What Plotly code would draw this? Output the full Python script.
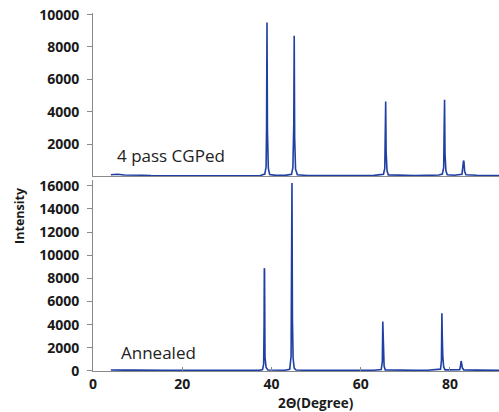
import plotly.graph_objects as go

# 4 pass CGPed pattern (upper panel)
cgp_two_theta = [4.0, 5.5, 7.0, 9.0, 11.0, 13.0, 16.0, 20.0, 24.0, 28.0, 32.0, 35.0, 37.5,
                 38.5, 38.8, 38.9, 39.0, 39.1, 39.3, 39.6, 41.0, 43.0,
                 44.5, 44.8, 45.0, 45.1, 45.2, 45.4, 45.8, 48.0, 52.0, 56.0, 60.0, 63.0,
                 65.1, 65.4, 65.5, 65.6, 65.7, 65.9, 66.2, 69.0, 72.0, 75.0, 77.5,
                 78.3, 78.6, 78.7, 78.8, 78.9, 79.1, 79.4, 81.0,
                 82.7, 82.95, 83.05, 83.1, 83.15, 83.3, 83.6, 86.0, 88.0, 91.0]
cgp_intensity = [110, 140, 95, 105, 80, 60, 50, 45, 40, 40, 45, 50, 60,
                 150, 600, 3000, 9520, 2800, 500, 120, 70, 70,
                 130, 550, 3200, 8700, 2400, 450, 110, 60, 55, 60, 60, 70,
                 140, 500, 2500, 4630, 1500, 350, 100, 70, 60, 70, 90,
                 150, 550, 2800, 4740, 1400, 350, 110, 80,
                 130, 600, 980, 850, 900, 300, 110, 80, 70, 60]

# Annealed pattern (lower panel)
ann_two_theta = [4.0, 5.5, 7.0, 9.0, 11.0, 13.0, 16.0, 20.0, 24.0, 28.0, 32.0, 35.0, 37.3,
                 38.0, 38.25, 38.35, 38.4, 38.45, 38.55, 38.8, 39.2, 41.0, 43.0,
                 44.1, 44.4, 44.5, 44.6, 44.7, 44.85, 45.1, 45.5, 48.0, 52.0, 56.0, 60.0, 63.0,
                 64.6, 64.85, 64.95, 65.0, 65.1, 65.25, 65.5, 68.0, 72.0, 75.0, 77.3,
                 77.9, 78.1, 78.2, 78.3, 78.4, 78.6, 78.9, 81.0,
                 82.2, 82.4, 82.5, 82.6, 82.8, 83.1, 86.0, 88.0, 91.0]
ann_intensity = [90, 110, 80, 90, 70, 60, 50, 50, 45, 45, 50, 55, 60,
                 120, 600, 4000, 8880, 8700, 1200, 300, 80, 70, 70,
                 150, 1300, 9000, 16240, 4500, 1100, 250, 90, 60, 60, 60, 65, 70,
                 130, 800, 4270, 2850, 1500, 400, 100, 70, 60, 70, 90,
                 160, 900, 4990, 2770, 1300, 350, 100, 80,
                 120, 500, 865, 700, 250, 100, 80, 70, 60]

x_ticks = [0, 20, 40, 60, 80]
upper_y_ticks = [2000, 4000, 6000, 8000, 10000]
lower_y_ticks = [0, 2000, 4000, 6000, 8000, 10000, 12000, 14000, 16000]

line_color = "#1f3fa3"
axis_color = "#8a8a8a"
tick_font = dict(family="Open Sans", size=14, color="#1a1a1a", weight="bold")

fig = go.Figure()
fig.add_trace(go.Scatter(x=cgp_two_theta, y=cgp_intensity, mode="lines",
                         line=dict(color=line_color, width=1.6), xaxis="x2", yaxis="y2",
                         showlegend=False))
fig.add_trace(go.Scatter(x=ann_two_theta, y=ann_intensity, mode="lines",
                         line=dict(color=line_color, width=1.6), xaxis="x", yaxis="y",
                         showlegend=False))

fig.update_layout(
    width=499, height=412,
    margin=dict(l=93, r=0, t=13, b=41),
    paper_bgcolor="white", plot_bgcolor="white",
    xaxis=dict(domain=[0, 1], range=[0, 91], anchor="y", tickvals=x_ticks,
               ticktext=[str(v) for v in x_ticks],
               showline=True, linecolor=axis_color, linewidth=1,
               ticks="inside", ticklen=4, tickcolor=axis_color,
               showgrid=False, zeroline=False, tickfont=tick_font),
    yaxis=dict(domain=[0, 0.5335], range=[0, 16500], anchor="x", tickvals=lower_y_ticks,
               ticktext=[str(v) for v in lower_y_ticks],
               showline=True, linecolor=axis_color, linewidth=1,
               ticks="outside", ticklen=5, tickcolor=axis_color, ticklabelstandoff=5,
               showgrid=False, zeroline=False, tickfont=tick_font),
    xaxis2=dict(domain=[0, 1], range=[0, 91], anchor="y2", showticklabels=False,
                showline=True, linecolor=axis_color, linewidth=1, ticks="",
                showgrid=False, zeroline=False),
    yaxis2=dict(domain=[0.5433, 1], range=[0, 10100], anchor="x2", tickvals=upper_y_ticks,
                ticktext=[str(v) for v in upper_y_ticks],
                showline=True, linecolor=axis_color, linewidth=1,
                ticks="outside", ticklen=5, tickcolor=axis_color, ticklabelstandoff=5,
                showgrid=False, zeroline=False, tickfont=tick_font),
    annotations=[
        dict(text="4 pass CGPed", xref="x2", yref="y2", x=5.0, y=1270,
             xanchor="left", yanchor="middle", showarrow=False,
             font=dict(family="Open Sans", size=17, color="#222")),
        dict(text="Annealed", xref="x", yref="y", x=5.9, y=1640,
             xanchor="left", yanchor="middle", showarrow=False,
             font=dict(family="Open Sans", size=17, color="#222")),
        dict(text="Intensity", xref="paper", yref="paper", x=-0.18, y=0.4358,
             xanchor="center", yanchor="middle", textangle=-90, showarrow=False,
             font=dict(family="Open Sans", size=12.5, color="#1a1a1a", weight="bold")),
        dict(text="2Θ(Degree)", xref="paper", yref="paper", x=0.549, y=-0.0894,
             xanchor="center", yanchor="middle", showarrow=False,
             font=dict(family="Open Sans", size=13.5, color="#1a1a1a", weight="bold")),
    ],
)

fig.write_html("out.html")
